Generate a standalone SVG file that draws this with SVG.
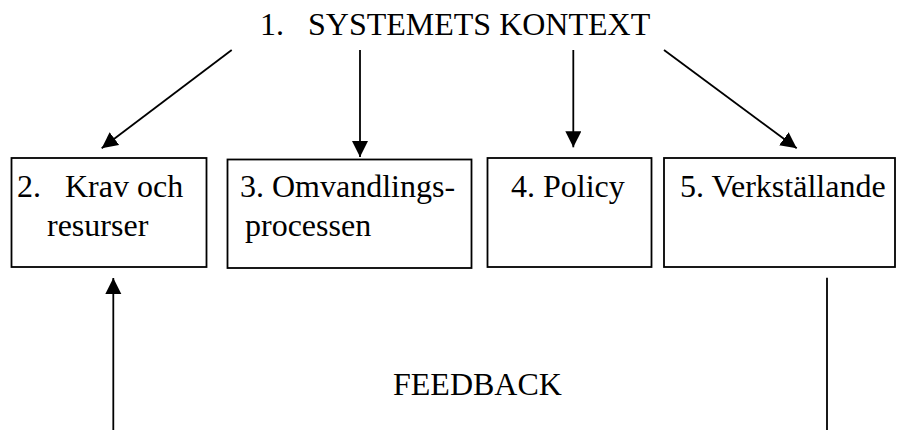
<svg xmlns="http://www.w3.org/2000/svg" width="909" height="430" viewBox="0 0 909 430">
<defs>
<marker id="ah" markerUnits="userSpaceOnUse" markerWidth="18" markerHeight="17" refX="16" refY="8" orient="auto">
<path d="M0,0 L16,8 L0,16 z" fill="#000"/>
</marker>
<style>
text{font-family:"Liberation Serif","Times New Roman",serif;font-size:32px;fill:#000}
.box{fill:#fff;stroke:#000;stroke-width:1.8}
.conn line{stroke:#000;stroke-width:1.8}
</style>
</defs>
<rect width="909" height="430" fill="#fff"/>
<g id="n1"><text x="260" y="35" xml:space="preserve">1.   SYSTEMETS KONTEXT</text></g>
<g id="n2"><rect class="box" x="11.5" y="158" width="195" height="109"/><text x="17" y="197">2.</text><text x="65" y="197">Krav och</text><text x="47" y="236">resurser</text></g>
<g id="n3"><rect class="box" x="227.5" y="159.5" width="244" height="108.5"/><text x="240" y="197">3. Omvandlings-</text><text x="245" y="236">processen</text></g>
<g id="n4"><rect class="box" x="487.5" y="158" width="164" height="109"/><text x="511" y="197">4. Policy</text></g>
<g id="n5"><rect class="box" x="664" y="158" width="231" height="109"/><text x="680" y="197">5. Verkställande</text></g>
<g id="n6"><text x="393" y="395">FEEDBACK</text></g>
<g class="conn" id="connectors">
<line x1="231.7" y1="50" x2="101.7" y2="148.3" marker-end="url(#ah)"/>
<line x1="360" y1="50" x2="360" y2="157" marker-end="url(#ah)"/>
<line x1="573.3" y1="50" x2="573.3" y2="147.3" marker-end="url(#ah)"/>
<line x1="664" y1="50" x2="796.7" y2="148.3" marker-end="url(#ah)"/>
<line x1="113.3" y1="430" x2="113.3" y2="278" marker-end="url(#ah)"/>
<line x1="827" y1="277.7" x2="827" y2="430"/>
</g>
</svg>
